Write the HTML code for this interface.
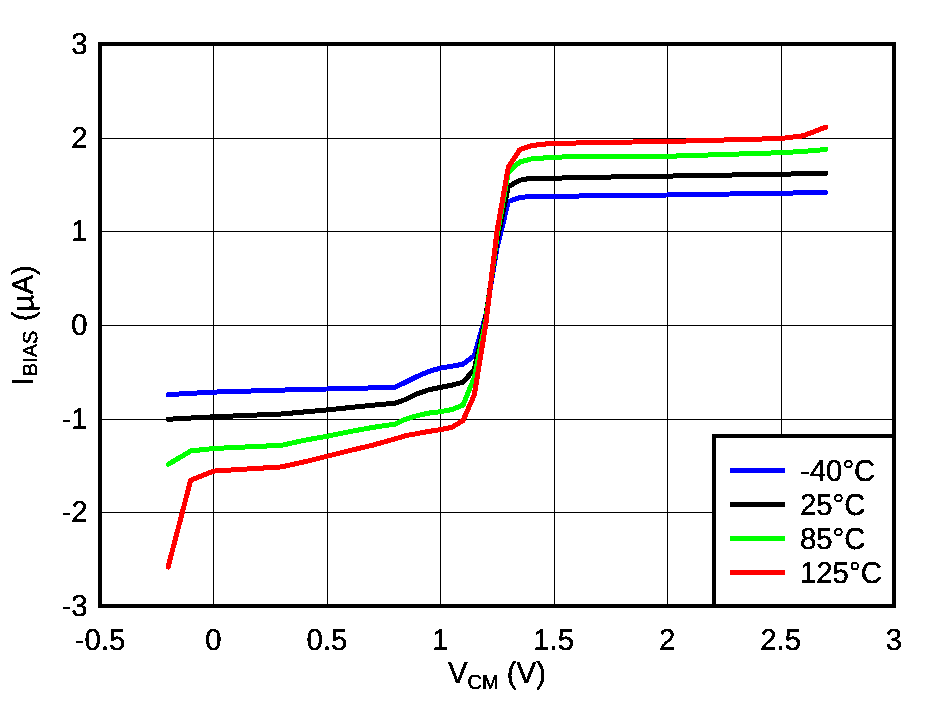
<!DOCTYPE html>
<html lang="en">
<head>
<meta charset="utf-8">
<title>IBIAS vs VCM</title>
<style>
html,body{margin:0;padding:0;background:#fff;}
body{width:926px;height:701px;overflow:hidden;}
svg{display:block;}
text{font-family:"Liberation Sans",Arial,sans-serif;font-size:29.33px;fill:#000;stroke:#000;stroke-width:0.3px;stroke-linejoin:round;text-rendering:geometricPrecision;}
.sub{font-size:20px;}
</style>
</head>
<body>
<svg width="926" height="701" viewBox="0 0 926 701">
<rect x="0" y="0" width="926" height="701" fill="#fff"/>
<defs><filter id="bw" x="-10%" y="-10%" width="120%" height="120%" color-interpolation-filters="sRGB"><feComponentTransfer><feFuncA type="discrete" tableValues="0 0 0 0 0 0 0 0 0 1 1 1 1 1 1 1 1 1 1 1"/></feComponentTransfer></filter></defs>
<g shape-rendering="crispEdges" fill="#000">
<rect x="213" y="44" width="1" height="562"/>
<rect x="327" y="44" width="1" height="562"/>
<rect x="440" y="44" width="1" height="562"/>
<rect x="554" y="44" width="1" height="562"/>
<rect x="667" y="44" width="1" height="562"/>
<rect x="781" y="44" width="1" height="562"/>
<rect x="100" y="138" width="794" height="1"/>
<rect x="100" y="231" width="794" height="1"/>
<rect x="100" y="325" width="794" height="1"/>
<rect x="100" y="419" width="794" height="1"/>
<rect x="100" y="512" width="794" height="1"/>
</g>
<g fill="none" stroke-width="5" stroke-linejoin="round" stroke-linecap="round" shape-rendering="crispEdges">
<polyline stroke="#0000ff" points="168.1,394.6 213.4,392.1 281.5,390.1 326.9,389.0 372.2,387.9 394.9,387.3 406.3,381.9 417.6,376.2 428.9,371.4 440.3,368.1 451.6,366.3 463.0,364.2 474.3,355.6 485.7,315.6 497.0,248.2 508.3,201.6 519.7,197.5 531.0,196.4 553.7,196.4 599.1,195.7 667.1,195.0 780.6,193.2 825.9,192.5"/>
<polyline stroke="#000000" points="168.1,419.3 213.4,416.8 281.5,414.0 326.9,409.9 372.2,405.3 394.9,403.2 406.3,399.2 417.6,393.6 428.9,389.7 440.3,387.4 451.6,385.2 463.0,382.2 474.3,369.5 485.7,317.5 497.0,240.7 508.3,186.7 519.7,180.2 531.0,178.2 553.7,178.2 599.1,177.2 667.1,176.1 780.6,174.2 825.9,173.4"/>
<polyline stroke="#00ff00" points="168.1,464.4 190.7,451.0 213.4,448.5 281.5,445.3 304.2,440.3 326.9,436.3 349.5,431.7 372.2,427.5 394.9,424.1 406.3,418.9 417.6,415.5 428.9,413.1 440.3,411.7 451.6,409.6 463.0,405.1 474.3,377.5 485.7,321.3 497.0,236.0 508.3,172.4 519.7,162.0 531.0,159.0 553.7,157.2 599.1,156.2 667.1,156.3 780.6,152.7 803.3,151.4 825.9,149.5"/>
<polyline stroke="#ff0000" points="168.1,567.0 190.7,480.2 213.4,471.1 281.5,466.9 304.2,461.9 326.9,456.3 349.5,450.6 372.2,445.3 394.9,438.9 406.3,435.5 417.6,433.5 428.9,431.4 440.3,429.7 451.6,427.4 463.0,420.6 474.3,395.0 485.7,325.0 497.0,231.3 508.3,167.2 519.7,149.7 531.0,145.8 542.4,144.2 553.7,143.5 599.1,142.5 667.1,141.5 780.6,138.5 803.3,135.8 825.9,127.1"/>
</g>
<g shape-rendering="crispEdges">
<rect x="714" y="436" width="180" height="170" fill="#fff" stroke="#000" stroke-width="4"/>
<rect x="100" y="44" width="794" height="562" fill="none" stroke="#000" stroke-width="4"/>
<rect x="730" y="468" width="55" height="5" fill="#0000ff"/>
<rect x="730" y="502" width="55" height="5" fill="#000000"/>
<rect x="730" y="536" width="55" height="5" fill="#00ff00"/>
<rect x="730" y="570" width="55" height="5" fill="#ff0000"/>
</g>
<g filter="url(#bw)">
<text transform="translate(800 481) scale(1 1.03)">-40°C</text>
<text transform="translate(800 515) scale(1 1.03)">25°C</text>
<text transform="translate(800 549) scale(1 1.03)">85°C</text>
<text transform="translate(800 583) scale(1 1.03)">125°C</text>
</g>
<g text-anchor="end" filter="url(#bw)">
<text transform="translate(87.5 54.0) scale(1 1.03)">3</text>
<text transform="translate(87.5 147.7) scale(1 1.03)">2</text>
<text transform="translate(87.5 241.3) scale(1 1.03)">1</text>
<text transform="translate(87.5 335.0) scale(1 1.03)">0</text>
<text transform="translate(87.5 428.7) scale(1 1.03)">-1</text>
<text transform="translate(87.5 522.3) scale(1 1.03)">-2</text>
<text transform="translate(87.5 616.0) scale(1 1.03)">-3</text>
</g>
<g text-anchor="middle" filter="url(#bw)">
<text transform="translate(100.0 650) scale(1 1.03)">-0.5</text>
<text transform="translate(213.4 650) scale(1 1.03)">0</text>
<text transform="translate(326.9 650) scale(1 1.03)">0.5</text>
<text transform="translate(440.3 650) scale(1 1.03)">1</text>
<text transform="translate(553.7 650) scale(1 1.03)">1.5</text>
<text transform="translate(667.2 650) scale(1 1.03)">2</text>
<text transform="translate(780.6 650) scale(1 1.03)">2.5</text>
<text transform="translate(894.0 650) scale(1 1.03)">3</text>
<text transform="translate(497 683) scale(1 1.03)">V<tspan class="sub" dy="5.5">CM</tspan><tspan dy="-5.5"> (V)</tspan></text>
<text transform="translate(33 325.3) rotate(-90) scale(1 1.03)">I<tspan class="sub" dy="4" dx="1">BIAS</tspan><tspan dy="-4" dx="1.3"> (µA)</tspan></text>
</g>
</svg>
</body>
</html>
